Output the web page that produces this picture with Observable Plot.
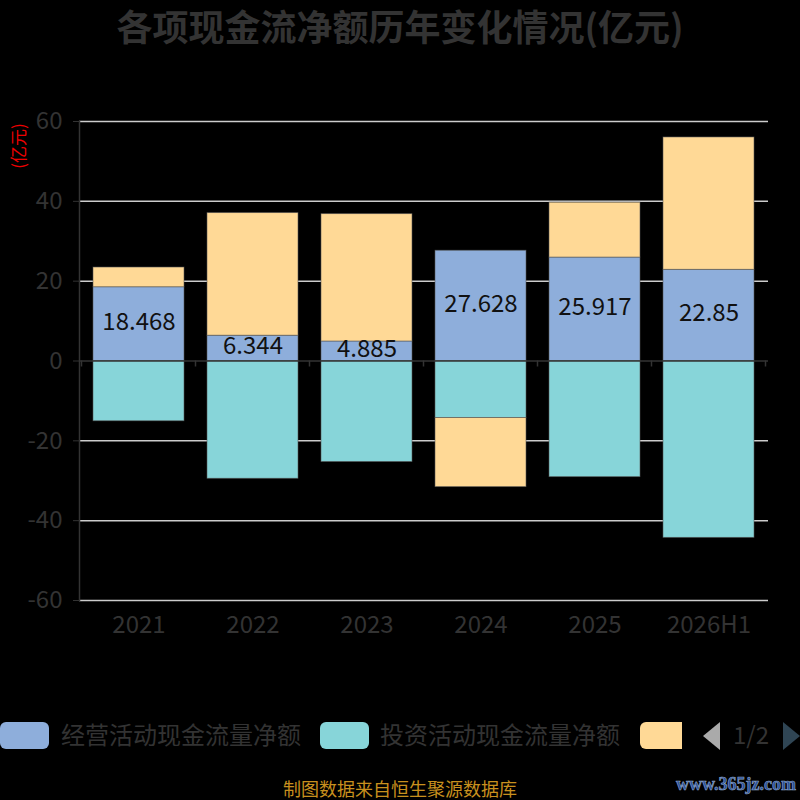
<!DOCTYPE html>
<html>
<head>
<meta charset="utf-8">
<script src="https://cdn.jsdelivr.net/npm/d3@7"></script>
<script src="https://cdn.jsdelivr.net/npm/@observablehq/plot@0.6"></script>
<style>
  html, body { margin: 0; padding: 0; background: #000; }
  #wrap { position: relative; width: 800px; height: 800px; overflow: hidden; background: #000;
          font-family: "Noto Sans CJK SC", "Noto Sans", sans-serif; }
  #title { position: absolute; left: 0; top: 3px; width: 800px; text-align: center;
           font-size: 36px; font-weight: bold; color: #333; line-height: 44px; }
  #unit { position: absolute; left: 17px; top: 146px; transform: translate(-50%, -50%) rotate(-90deg);
          color: #e00; font-size: 17px; white-space: nowrap; line-height: 17px; }
  #chart { position: absolute; left: 0; top: 60px; }
  .lg-rect { position: absolute; top: 722px; height: 27px; border-radius: 6px; }
  .lg-text { position: absolute; top: 716px; font-size: 24px; color: #333; line-height: 36px; white-space: nowrap; }
  #footer { position: absolute; left: 0; width: 800px; top: 779px; text-align: center; color: #c8901e; font-size: 18px; line-height: 19px; }
  #wm { position: absolute; left: 676px; top: 773px; font-size: 18px; font-weight: bold; line-height: 22px;
        color: #2a4f9a; -webkit-text-stroke: 0.6px #8fa6c8; font-family: "Liberation Serif", "DejaVu Serif", serif; white-space: nowrap; }
</style>
</head>
<body>
<div id="wrap">
  <div id="title">各项现金流净额历年变化情况(亿元)</div>
  <div id="unit">(亿元)</div>
  <div id="chart"></div>
  <div id="legend"></div>
  <div id="footer">制图数据来自恒生聚源数据库</div>
  <div id="wm">www.365jz.com</div>
</div>
<script>
const years = ["2021", "2022", "2023", "2024", "2025", "2026H1"];
const operating = [18.468, 6.344, 4.885, 27.628, 25.917, 22.85];
const investing = [-15.1, -29.5, -25.3, -14.3, -29.1, -44.3];
const financing = [4.95, 30.7, 31.9, -17.3, 13.75, 33.15];
const seriesNames = ["经营活动现金流量净额", "投资活动现金流量净额", "筹资活动现金流量净额"];
const seriesColors = ["#8eaedb", "#87d5d9", "#ffd996"];
const yTicks = [-60, -40, -20, 0, 20, 40, 60];

const seriesValues = [operating, investing, financing];
const data = years.flatMap((yr, i) =>
  seriesNames.map((s, k) => ({year: yr, series: s, value: seriesValues[k][i]}))
);
const labels = years.map((yr, i) => ({year: yr, value: operating[i]}));

const chart = Plot.plot({
  width: 800,
  height: 620,
  marginTop: 61,
  marginBottom: 80,
  marginLeft: 79,
  marginRight: 32,
  style: {background: "transparent", color: "#333", fontFamily: "'Noto Sans CJK SC', 'Noto Sans', sans-serif", fontSize: "24px"},
  x: {domain: years, paddingInner: 0.2, paddingOuter: 0.1, label: null},
  y: {domain: [-60, 60], label: null},
  color: {domain: seriesNames, range: seriesColors},
  marks: [
    Plot.ruleY(yTicks.filter(d => d !== 0), {stroke: "#ccc", strokeWidth: 1.5}),
    Plot.barY(data, {x: "year", y: "value", fill: "series", stroke: "#555", strokeWidth: 0.8, strokeOpacity: 0.7}),
    Plot.ruleY([0], {stroke: "#333", strokeWidth: 1.5}),
    Plot.frame({anchor: "left", stroke: "#333", strokeWidth: 1.5}),
    Plot.axisY({ticks: yTicks, tickSize: 6, tickPadding: 11, tickFormat: d => String(d), fontSize: 24, color: "#333", stroke: "#333"}),
    Plot.axisX({tickSize: 0, tickPadding: 15, fontSize: 24, color: "#333"}),
    Plot.text(labels, {x: "year", y: d => d.value / 2, text: d => String(d.value), fill: "#111", fontSize: 24, dy: -2})
  ]
});

// boundary ticks on the zero axis line (category-style axis ticks)
const xs = chart.scale("x");
const ys = chart.scale("y");
const gap = (xs.step - xs.bandwidth) / 2;
const bounds = years.map(yr => xs.apply(yr) - gap);
bounds.push(xs.apply(years[years.length - 1]) + xs.bandwidth + gap);
const y0 = ys.apply(0);
d3.select(chart).append("g")
  .selectAll("line").data(bounds).join("line")
  .attr("x1", d => d).attr("x2", d => d)
  .attr("y1", y0).attr("y2", y0 + 6)
  .attr("stroke", "#333").attr("stroke-width", 1.5);

document.getElementById("chart").appendChild(chart);

// legend (first page of a paged legend)
const legend = document.getElementById("legend");
const lgItems = [
  {x: 0, w: 49, color: seriesColors[0], text: seriesNames[0], tx: 61},
  {x: 320, w: 49, color: seriesColors[1], text: seriesNames[1], tx: 380},
  {x: 640, w: 42, color: seriesColors[2], text: null, tx: null}
];
lgItems.forEach(it => {
  const r = document.createElement("div");
  r.className = "lg-rect";
  r.style.left = it.x + "px";
  r.style.width = it.w + "px";
  r.style.background = it.color;
  if (it.w < 49) { r.style.borderTopRightRadius = "0"; r.style.borderBottomRightRadius = "0"; }
  legend.appendChild(r);
  if (it.text) {
    const t = document.createElement("div");
    t.className = "lg-text";
    t.style.left = it.tx + "px";
    t.textContent = it.text;
    legend.appendChild(t);
  }
});
const nav = document.createElementNS("http://www.w3.org/2000/svg", "svg");
nav.setAttribute("width", "110");
nav.setAttribute("height", "40");
nav.style.position = "absolute";
nav.style.left = "695px";
nav.style.top = "716px";
nav.innerHTML = '<path d="M8,20 L25,6 L25,34 Z" fill="#aaa"/>' +
  '<text x="56" y="28" text-anchor="middle" font-size="24" fill="#333" font-family="Noto Sans CJK SC, sans-serif">1/2</text>' +
  '<path d="M105,20 L88,6 L88,34 Z" fill="#2f4554"/>';
legend.appendChild(nav);
</script>
</body>
</html>
